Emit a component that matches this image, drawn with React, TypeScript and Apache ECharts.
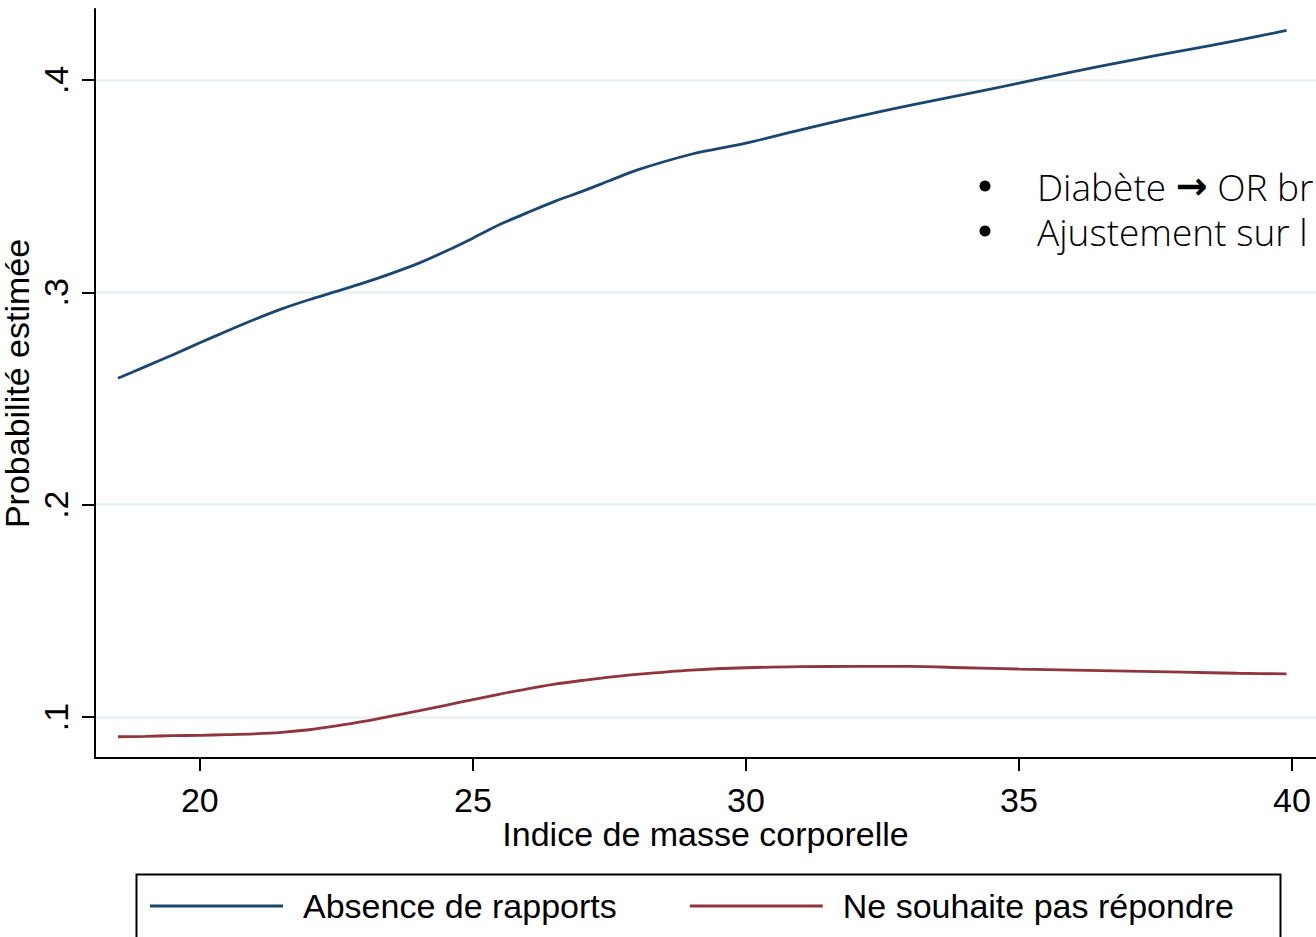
import React, { useEffect, useRef } from "react";
import * as echarts from "echarts";

// Indice de masse corporelle (x)
const bmiValues = [
  18.5, 19, 19.5, 20, 20.5, 21, 21.5, 22, 22.5, 23, 23.5, 24, 24.5, 25, 25.5, 26,
  26.5, 27, 27.5, 28, 29, 30, 31, 32, 33, 34, 35, 36, 37, 38, 39, 39.9,
];
// Probabilité estimée — Absence de rapports
const absenceRapports = [
  0.2595, 0.265, 0.2705, 0.2762, 0.2818, 0.2872, 0.2922, 0.2965, 0.3004, 0.3044,
  0.3088, 0.3136, 0.3193, 0.3255, 0.332, 0.3375, 0.3428, 0.3475, 0.3525, 0.3575,
  0.365, 0.3702, 0.3765, 0.3825, 0.388, 0.3932, 0.3985, 0.4039, 0.409, 0.4138,
  0.4186, 0.4233,
];
// Probabilité estimée — Ne souhaite pas répondre
const neSouhaitePas = [
  0.0907, 0.0909, 0.0912, 0.0914, 0.0917, 0.0921, 0.0928, 0.094, 0.0958, 0.0979,
  0.1004, 0.1029, 0.1055, 0.1082, 0.1108, 0.1133, 0.1155, 0.1172, 0.1188, 0.1201,
  0.1221, 0.1232, 0.1237, 0.1238, 0.1238, 0.1232, 0.1226, 0.1221, 0.1216, 0.1211,
  0.1206, 0.1203,
];
const xTicks = [20, 25, 30, 35, 40];
const yTicks = [0.1, 0.2, 0.3, 0.4];
const seriesNames = ["Absence de rapports", "Ne souhaite pas répondre"];
const seriesColors = ["#1a476f", "#90353b"];
const notes = ["{a|Diabète }{b|→}{a| OR br}", "{a|Ajustement sur l}"];

const AXIS_FONT = "'Liberation Sans', Arial, sans-serif";
const NOTE_FONT = "'Open Sans', sans-serif";

export default function App() {
  const ref = useRef<HTMLDivElement>(null);

  useEffect(() => {
    if (!ref.current) return;
    const chart = echarts.init(ref.current, null, { renderer: "svg" });
    const pairs = (ys: number[]) => bmiValues.map((x, i) => [x, ys[i]]);
    chart.setOption({
      animation: false,
      backgroundColor: "#ffffff",
      grid: {
        left: 95,
        top: 9,
        right: 0,
        bottom: 179,
        containLabel: false,
        outerBoundsMode: "none",
      },
      xAxis: {
        type: "value",
        min: 18.08,
        max: 40.44,
        name: "Indice de masse corporelle",
        nameLocation: "middle",
        nameGap: 59,
        nameMoveOverlap: false,
        nameTextStyle: { fontSize: 34, color: "#000", fontFamily: AXIS_FONT },
        axisLine: { show: true, onZero: false, lineStyle: { color: "#000", width: 2 } },
        axisTick: {
          show: true,
          customValues: xTicks,
          length: 13,
          lineStyle: { color: "#000", width: 2 },
        },
        axisLabel: {
          customValues: xTicks,
          fontSize: 34,
          color: "#000",
          fontFamily: AXIS_FONT,
          margin: 25,
        },
        splitLine: { show: false },
      },
      yAxis: {
        type: "value",
        min: 0.0807,
        max: 0.4334,
        name: "Probabilité estimée",
        nameLocation: "middle",
        nameGap: 61,
        nameMoveOverlap: false,
        nameTextStyle: { fontSize: 34, color: "#000", fontFamily: AXIS_FONT },
        axisLine: { show: true, onZero: false, lineStyle: { color: "#000", width: 2 } },
        axisTick: {
          show: true,
          customValues: yTicks,
          length: 13,
          lineStyle: { color: "#000", width: 2 },
        },
        axisLabel: {
          customValues: yTicks,
          rotate: 90,
          fontSize: 34,
          color: "#000",
          fontFamily: AXIS_FONT,
          margin: 22,
          formatter: (v: number) => String(Math.round(v * 10) / 10).replace(/^0/, ""),
        },
        splitLine: { show: true, lineStyle: { color: "#eaf1f3", width: 2.5 } },
      },
      legend: {
        show: true,
        left: 150,
        top: 889,
        padding: 0,
        icon: "rect",
        itemWidth: 133,
        itemHeight: 3,
        itemGap: 73,
        data: seriesNames,
        textStyle: {
          fontSize: 34,
          color: "#000",
          fontFamily: AXIS_FONT,
          padding: [0, 0, 0, 15],
        },
      },
      series: [
        {
          name: seriesNames[0],
          type: "line",
          data: pairs(absenceRapports),
          symbol: "none",
          smooth: 0.3,
          lineStyle: { color: seriesColors[0], width: 2.8 },
          itemStyle: { color: seriesColors[0] },
        },
        {
          name: seriesNames[1],
          type: "line",
          data: pairs(neSouhaitePas),
          symbol: "none",
          smooth: 0.3,
          lineStyle: { color: seriesColors[1], width: 2.8 },
          itemStyle: { color: seriesColors[1] },
        },
      ],
      graphic: [
        {
          type: "rect",
          left: 134,
          top: 872,
          shape: { x: 0, y: 0, width: 1144, height: 120 },
          style: { fill: "none", stroke: "#000", lineWidth: 2 },
          silent: true,
        },
        ...notes.flatMap((t, i) => [
          {
            type: "circle",
            shape: { cx: 985, cy: 186 + i * 45, r: 5.5 },
            style: { fill: "#000" },
            silent: true,
          },
          {
            type: "text",
            x: 1037,
            y: 186 + i * 45,
            style: {
              text: t,
              fill: "#000",
              verticalAlign: "middle",
              align: "left",
              rich: {
                a: {
                  fontSize: 37,
                  lineHeight: 40,
                  fontFamily: NOTE_FONT,
                  fontWeight: 300,
                  fill: "#000",
                },
                b: {
                  fontSize: 38,
                  lineHeight: 40,
                  fontFamily: "'DejaVu Sans', sans-serif",
                  fontWeight: "bold",
                  fill: "#000",
                },
              },
            },
            silent: true,
          },
        ]),
      ],
    });
    return () => chart.dispose();
  }, []);

  return (
    <div
      ref={ref}
      style={{ position: "absolute", left: 0, top: 0, width: 1316, height: 937, background: "#fff" }}
    />
  );
}
